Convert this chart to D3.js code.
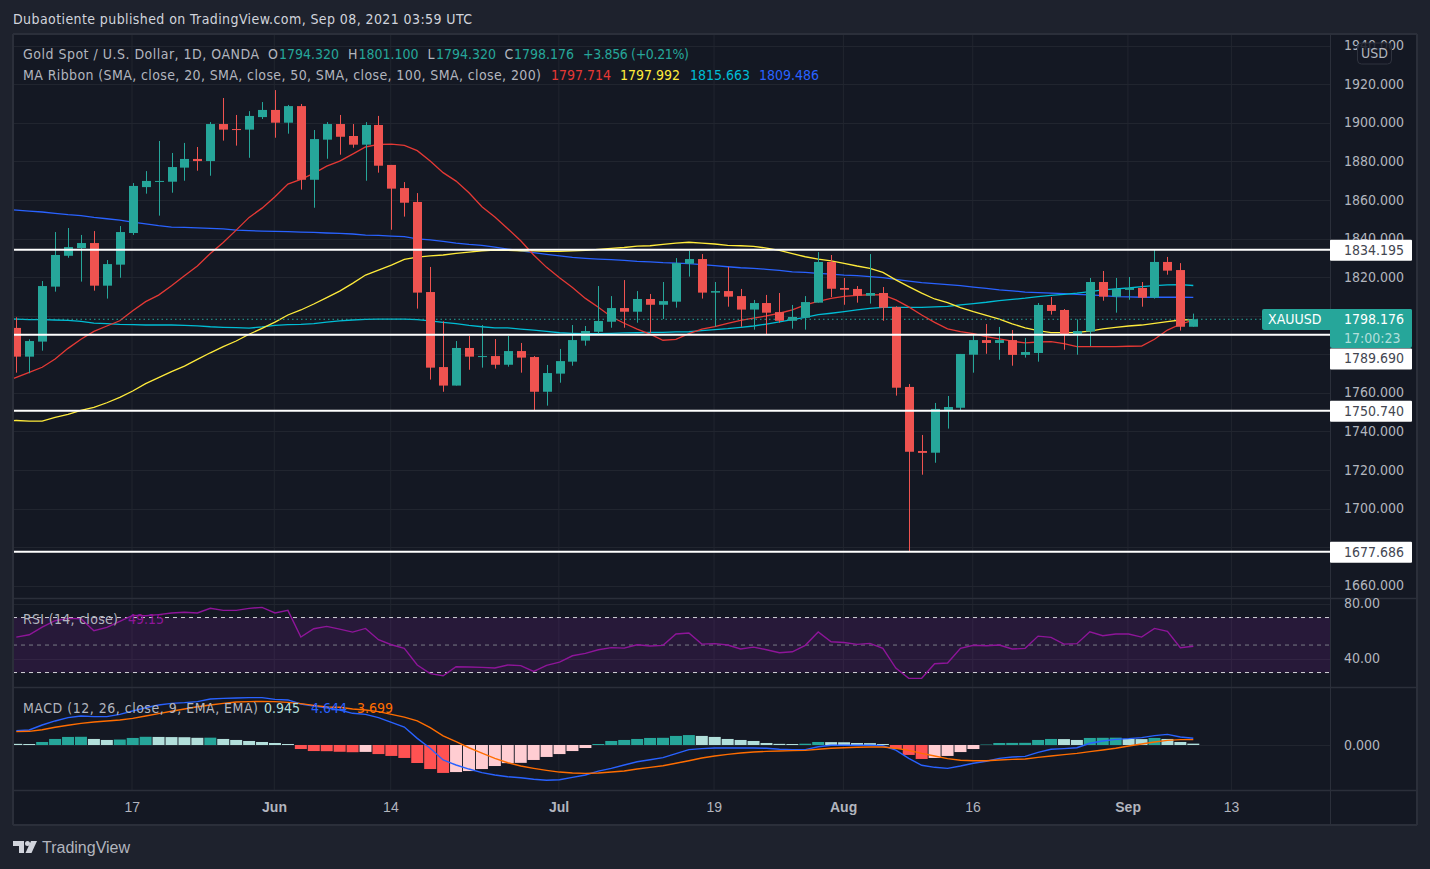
<!DOCTYPE html>
<html><head><meta charset="utf-8">
<script src="https://cdnjs.cloudflare.com/ajax/libs/d3/7.8.5/d3.min.js"></script>
<style>
html,body{margin:0;padding:0;background:#1e222d;overflow:hidden}
text{font-family:"DejaVu Sans Condensed","DejaVu Sans",sans-serif;font-stretch:condensed;font-size:14px}
</style></head><body><svg id="c" width="1430" height="869"></svg>
<script>
// ---- values ----
const opens=[1793.3,1778.4,1786.2,1814.7,1830.7,1834.7,1837.3,1815.2,1826.1,1842.5,1866.3,1869.1,1869.1,1876.4,1880.9,1879.8,1899.0,1896.4,1896.1,1902.6,1906.3,1899.7,1908.3,1870.1,1890.9,1899.0,1892.8,1888.3,1898.5,1877.8,1865.8,1858.6,1811.9,1773.0,1763.4,1782.9,1778.2,1778.7,1774.2,1781.3,1778.2,1760.2,1769.6,1775.8,1786.7,1791.3,1796.5,1803.6,1801.7,1808.3,1805.3,1806.9,1826.6,1829.0,1811.6,1812.4,1809.8,1802.8,1806.2,1801.5,1797.0,1798.6,1806.4,1827.5,1814.0,1813.5,1810.0,1811.4,1804.1,1762.7,1729.5,1728.6,1750.7,1751.9,1779.4,1787.0,1785.5,1787.0,1779.3,1780.3,1805.2,1802.6,1790.1,1791.4,1817.1,1809.5,1813.0,1814.0,1809.0,1827.5,1823.3,1793.9];
const highs=[1798.8,1787.4,1817.6,1843.0,1845.1,1841.5,1843.5,1828.5,1846.1,1868.4,1874.6,1890.2,1884.0,1889.2,1887.1,1900.0,1912.5,1903.7,1905.7,1910.4,1916.6,1908.9,1909.4,1895.9,1900.0,1903.7,1899.0,1900.0,1903.2,1877.8,1868.9,1863.2,1824.9,1796.7,1786.5,1789.1,1794.8,1787.5,1789.1,1785.5,1778.7,1774.1,1782.4,1794.8,1794.3,1815.0,1809.8,1818.1,1812.4,1810.9,1817.1,1829.5,1833.2,1831.6,1817.1,1824.9,1813.5,1807.8,1810.4,1811.4,1805.2,1809.8,1832.6,1831.1,1819.2,1815.0,1831.6,1814.5,1804.5,1764.2,1737.8,1754.4,1758.0,1779.8,1789.6,1795.3,1793.8,1792.2,1788.1,1806.2,1809.3,1803.1,1797.7,1819.2,1822.8,1819.2,1819.7,1817.1,1833.7,1830.1,1826.9,1800.7];
const lows=[1770.1,1769.8,1781.5,1812.1,1829.7,1817.3,1812.6,1808.5,1819.3,1841.5,1862.9,1851.5,1863.4,1869.6,1874.8,1872.2,1890.4,1887.8,1881.5,1901.6,1891.9,1894.0,1865.0,1855.6,1881.0,1883.1,1886.7,1869.6,1873.8,1844.2,1851.0,1803.3,1766.5,1760.2,1763.4,1771.6,1772.7,1772.2,1773.2,1770.1,1750.7,1753.0,1764.9,1773.7,1784.1,1790.1,1793.4,1793.4,1796.0,1790.8,1797.9,1803.8,1819.9,1808.5,1793.9,1804.3,1793.9,1792.4,1790.1,1796.0,1792.9,1792.4,1806.4,1809.3,1805.3,1806.4,1805.9,1797.0,1758.2,1677.3,1717.2,1723.4,1741.1,1750.7,1770.1,1779.9,1776.8,1773.7,1777.9,1775.8,1800.2,1782.0,1779.4,1783.9,1807.4,1801.2,1807.9,1804.3,1808.5,1820.9,1791.9,1793.9];
const closes=[1778.4,1786.5,1815.0,1831.1,1835.2,1837.3,1815.2,1826.4,1843.0,1866.9,1869.5,1869.5,1876.7,1880.9,1879.8,1899.0,1896.1,1896.1,1903.2,1906.3,1899.7,1908.3,1870.1,1891.2,1899.0,1892.4,1888.3,1898.5,1877.4,1865.5,1858.2,1811.6,1772.7,1763.4,1782.9,1778.4,1778.7,1774.2,1781.3,1777.9,1760.2,1769.9,1776.1,1787.0,1791.7,1796.9,1803.6,1801.7,1808.3,1805.3,1807.2,1826.9,1829.0,1811.6,1812.4,1809.5,1802.8,1806.2,1801.2,1797.0,1799.0,1806.7,1827.5,1813.6,1813.1,1810.0,1811.4,1803.8,1762.3,1729.1,1728.5,1751.3,1752.3,1779.8,1787.0,1785.5,1787.0,1779.3,1780.8,1805.2,1802.1,1790.1,1791.7,1817.1,1809.5,1813.5,1814.0,1809.0,1827.5,1823.0,1793.9,1797.8];
// moving averages: first value belongs to the session before the first candle
const ma20=[1765.0,1767.7,1770.3,1772.9,1777.2,1782.7,1787.4,1791.5,1794.3,1797.0,1802.2,1806.9,1810.3,1815.2,1820.4,1825.4,1831.9,1837.6,1844.0,1850.6,1855.4,1861.3,1867.9,1870.3,1873.4,1877.2,1879.8,1883.4,1887.1,1888.4,1888.6,1887.9,1885.2,1879.8,1873.8,1869.4,1863.4,1856.1,1850.8,1844.7,1838.5,1831.1,1824.7,1819.3,1814.2,1808.6,1804.0,1799.1,1795.7,1792.7,1790.1,1786.9,1787.4,1790.3,1792.7,1794.0,1795.7,1797.2,1798.4,1799.5,1800.9,1802.6,1805.2,1807.1,1808.6,1809.7,1810.2,1810.5,1810.4,1807.8,1804.2,1800.0,1796.2,1792.8,1791.4,1790.3,1788.8,1787.6,1786.4,1785.5,1786.0,1786.2,1785.2,1783.6,1783.6,1783.6,1783.6,1783.8,1783.9,1787.4,1792.2,1795.2,1797.3];
const ma50=[1745.2,1745.3,1745.0,1745.0,1746.9,1748.5,1750.6,1752.1,1754.5,1757.3,1760.6,1764.4,1767.5,1770.6,1773.5,1777.0,1780.4,1783.6,1786.5,1790.0,1793.1,1796.3,1800.0,1802.6,1805.7,1809.0,1812.4,1816.4,1820.7,1823.3,1825.9,1828.8,1830.0,1830.6,1831.1,1831.9,1832.6,1833.3,1833.7,1833.5,1833.3,1833.2,1833.0,1833.0,1833.2,1833.5,1834.0,1834.5,1835.0,1835.7,1835.9,1836.6,1837.3,1837.7,1837.3,1836.8,1836.1,1835.9,1835.6,1834.7,1833.5,1831.8,1830.2,1829.0,1828.0,1826.8,1825.4,1824.2,1822.1,1818.2,1814.7,1811.3,1808.3,1806.4,1803.8,1801.7,1799.8,1797.8,1795.4,1793.3,1791.9,1790.9,1790.9,1791.0,1791.6,1792.8,1793.6,1794.3,1794.8,1795.7,1796.6,1797.4,1797.6];
const ma100=[1798.0,1797.9,1797.6,1797.6,1797.4,1797.2,1796.7,1795.8,1795.5,1795.1,1795.0,1794.8,1794.8,1794.8,1794.6,1794.4,1793.9,1793.6,1793.4,1793.2,1793.8,1794.6,1795.0,1795.1,1795.5,1796.3,1797.0,1797.4,1797.7,1797.9,1797.9,1797.9,1797.6,1797.0,1796.2,1795.5,1794.6,1793.9,1793.3,1793.3,1792.7,1792.2,1791.5,1790.8,1790.5,1790.3,1790.3,1790.5,1790.7,1790.8,1791.0,1791.0,1791.2,1791.3,1791.9,1792.4,1792.9,1793.6,1794.3,1795.3,1796.4,1797.6,1798.8,1800.2,1800.9,1801.7,1802.6,1803.4,1804.0,1804.0,1804.0,1804.0,1804.2,1804.5,1805.2,1805.9,1806.6,1807.5,1808.1,1808.7,1809.5,1810.2,1810.7,1811.3,1812.1,1813.0,1813.5,1814.0,1814.7,1815.2,1815.6,1815.7,1815.3];
const ma200=[1854.9,1854.4,1853.9,1853.4,1852.7,1852.0,1851.5,1850.6,1849.9,1849.2,1848.2,1847.2,1846.3,1845.6,1845.4,1845.2,1844.9,1844.6,1844.0,1843.7,1843.5,1843.3,1843.2,1843.0,1842.8,1842.5,1842.3,1842.0,1841.4,1841.3,1840.9,1840.6,1839.5,1838.9,1838.2,1837.3,1836.6,1836.1,1835.2,1834.2,1833.3,1832.3,1831.4,1830.6,1829.9,1829.4,1829.0,1828.7,1828.3,1827.8,1827.5,1827.1,1826.9,1826.6,1826.1,1825.6,1825.0,1824.5,1824.2,1823.7,1823.1,1822.4,1822.1,1821.6,1821.2,1820.7,1820.4,1819.9,1819.4,1818.5,1817.6,1816.8,1816.3,1815.7,1815.2,1814.5,1813.8,1813.0,1812.5,1811.9,1811.6,1811.3,1811.1,1810.7,1810.4,1810.0,1809.5,1809.4,1809.2,1809.2,1809.2,1809.2,1809.1];
const rsi=[55.8,57.5,63.1,67.7,69.4,69.1,60.4,62.8,67.2,71.6,71.3,72.1,73.3,73.8,73.3,76.7,75.2,75.2,76.7,77.4,73.3,75.2,55.8,61.9,63.6,61.6,59.4,62.1,53.9,50.2,47.6,35.5,29.2,27.7,34.2,34.0,33.8,33.3,35.5,35.0,30.8,35.2,37.6,42.2,43.9,46.6,48.1,47.8,50.2,49.3,49.8,58.0,58.7,50.7,51.0,50.0,47.1,48.5,46.6,44.4,45.1,49.8,59.5,52.4,51.9,50.5,51.2,47.6,33.3,25.8,25.8,36.4,36.9,47.6,49.8,49.5,50.0,47.1,47.6,56.5,55.6,50.7,51.0,59.7,56.8,58.0,58.0,55.8,62.1,59.9,48.1,49.15];
const macdLine=[10.0,10.4,13.9,16.7,19.0,20.1,19.7,19.7,21.3,23.6,25.9,27.8,28.9,29.4,30.1,31.9,32.4,32.6,32.9,32.9,31.7,31.3,28.5,27.1,25.9,24.3,22.0,21.3,19.0,15.7,12.5,4.6,-2.3,-10.4,-13.9,-16.7,-19.2,-20.8,-22.0,-22.7,-23.8,-24.5,-24.1,-22.5,-20.8,-18.1,-16.2,-13.9,-11.6,-10.2,-8.8,-6.0,-3.2,-2.5,-2.1,-2.1,-2.1,-2.1,-2.3,-3.0,-3.2,-3.2,-1.2,-0.2,-0.2,-0.2,-0.2,-0.5,-3.5,-9.3,-14.1,-15.5,-16.2,-14.6,-12.7,-11.3,-9.3,-8.3,-7.9,-5.1,-3.0,-2.5,-1.9,1.2,2.8,3.9,4.4,5.1,6.5,7.4,5.6,4.644];
const macdSignal=[9.3,9.5,10.6,12.3,13.7,15.0,16.0,16.7,17.4,18.5,20.1,21.8,23.4,25.0,26.6,27.8,28.9,29.9,30.1,30.3,30.1,29.6,28.7,27.5,26.4,26.2,25.0,24.3,23.2,21.3,19.4,16.7,12.0,6.3,2.3,-1.9,-5.6,-9.3,-12.3,-14.6,-16.2,-17.6,-18.8,-19.4,-19.7,-19.4,-18.8,-18.1,-16.7,-15.5,-14.4,-12.7,-10.9,-9.0,-7.6,-6.5,-5.6,-4.9,-4.4,-4.2,-3.9,-3.7,-3.0,-2.3,-1.9,-1.6,-1.4,-1.4,-2.3,-3.7,-5.8,-7.6,-9.5,-10.6,-10.9,-10.9,-10.4,-10.0,-9.7,-8.6,-7.6,-6.7,-5.8,-4.6,-3.5,-2.3,-0.7,0.7,2.1,3.2,3.7,3.699];
const macdHist=[0.8,0.7,2.1,4.2,5.6,5.7,4.2,3.5,3.8,4.9,5.7,5.6,5.5,5.4,5.0,5.1,4.2,3.5,2.8,2.1,1.4,0.7,-2.8,-4.2,-4.3,-4.7,-5.0,-4.8,-6.3,-7.6,-9.0,-12.5,-16.7,-19.4,-18.8,-18.1,-16.7,-14.6,-12.6,-12.4,-10.4,-8.3,-6.3,-4.2,-2.1,0.7,2.8,3.5,4.2,4.9,5.0,6.3,6.9,6.3,5.6,4.2,3.5,2.8,1.4,0.8,0.7,0.9,2.1,2.0,1.9,1.4,1.3,0.7,-2.8,-6.9,-9.7,-9.0,-7.6,-4.9,-2.8,0.3,1.4,1.45,1.5,3.5,4.2,4.1,3.5,4.9,5.0,5.1,4.2,4.1,4.9,4.2,2.1,0.945];
const readingOffset=0.4; // prices above were read against a grid 0.4 lower than the axis
const timeTickIndex=[9,20,29,42,54,64,74,86,94];
const timeTickLabels=["17","Jun","14","Jul","19","Aug","16","Sep","13"];
const priceTicks=[1940,1920,1900,1880,1860,1840,1820,1800,1780,1760,1740,1720,1700,1680,1660];
const priceTickLabelsCovered=[1800,1780,1680]; // gridline only: the label pills cover these in the picture
const levels=[1834.195,1790.2,1750.740,1677.686];
const levelLabels=["1834.195","1789.690","1750.740","1677.686"];
const lastPrice=1798.176;
const rsiTicks=[80,40], rsiBands=[70,50,30];
const macdTicks=[0];
// ---- drawing ----
const svg=d3.select("#c");
const L=13,R=1330,AX=1417,T=34,B=825;
const P1=598,P2=687,P3=790;
const bg="#141823",gridC="#21252f",sepC="#2b2f3a",txt="#b2b5be";
const up="#26a69a",dn="#ef5350";
const x=d3.scaleLinear().domain([0,91]).range([16.3,1193.3]);
const y=d3.scaleLinear().domain([1920,1660]).range([84.3,585.8]);
const yR=d3.scaleLinear().domain([80,40]).range([603.8,658.8]);
const yM=d3.scaleLinear().domain([0,10]).range([745,730.6]);
const adj=a=>a.map(v=>v+readingOffset);
const O=adj(opens),H=adj(highs),Lo=adj(lows),C=adj(closes);

svg.append("rect").attr("x",L).attr("y",T).attr("width",AX-L).attr("height",B-T).attr("fill",bg);
const defs=svg.append("defs");
[["cp",T,P1],["cr",P1,P2],["cm",P2,P3]].forEach(([id,a,b])=>defs.append("clipPath").attr("id",id).append("rect").attr("x",L).attr("y",a).attr("width",R-L).attr("height",b-a));

// grid
const gGrid=svg.append("g");
const vGrid=(a,b)=>gGrid.append("g").selectAll("line").data(timeTickIndex).join("line").attr("x1",d=>x(d)-.7).attr("x2",d=>x(d)-.7).attr("y1",a).attr("y2",b).attr("stroke",gridC);
vGrid(T,P1);vGrid(P1,P2);vGrid(P2,P3);
const hGrid=(s,ticks,clip)=>gGrid.append("g").attr("clip-path",`url(#${clip})`).selectAll("line").data(ticks).join("line").attr("x1",L).attr("x2",R).attr("y1",d=>Math.round(s(d))+.5).attr("y2",d=>Math.round(s(d))+.5).attr("stroke",gridC);
hGrid(y,priceTicks,"cp");hGrid(yR,rsiTicks,"cr");hGrid(yM,macdTicks,"cm");

// price pane
const price=svg.append("g").attr("clip-path","url(#cp)");
const maLine=d3.line().x((d,i)=>x(i-1)).y(d=>y(d));
[[ma200,"#2962ff"],[ma100,"#00bcd4"],[ma50,"#ffeb3b"],[ma20,"#e53935"]].forEach(([a,c])=>
  price.append("path").attr("d",maLine(adj(a))).attr("fill","none").attr("stroke",c).attr("stroke-width",1.3));
price.append("line").attr("x1",L).attr("x2",1262).attr("y1",y(lastPrice)).attr("y2",y(lastPrice)).attr("stroke",up).attr("stroke-dasharray","1.5 3");
const idx=d3.range(O.length);
const col=i=>C[i]>=O[i]?up:dn;
price.append("g").selectAll("line").data(idx).join("line").attr("x1",i=>Math.round(x(i))+.5).attr("x2",i=>Math.round(x(i))+.5).attr("y1",i=>y(H[i])).attr("y2",i=>y(Lo[i])).attr("stroke",col);
price.append("g").selectAll("rect").data(idx).join("rect").attr("x",i=>Math.round(x(i))-4).attr("width",9)
  .attr("y",i=>y(Math.max(O[i],C[i]))).attr("height",i=>Math.max(1,Math.abs(y(O[i])-y(C[i])))).attr("fill",col);
price.append("g").selectAll("line").data(levels).join("line").attr("x1",L).attr("x2",R).attr("y1",d=>y(d)).attr("y2",d=>y(d)).attr("stroke","#fff").attr("stroke-width",2);

// RSI
const rsiG=svg.append("g").attr("clip-path","url(#cr)");
rsiG.append("rect").attr("x",L).attr("width",R-L).attr("y",yR(70)).attr("height",yR(30)-yR(70)).attr("fill","#7e1fa2").attr("fill-opacity",.18);
rsiG.append("g").selectAll("line").data(rsiBands).join("line").attr("x1",L).attr("x2",R).attr("y1",d=>yR(d)).attr("y2",d=>yR(d))
  .attr("stroke",d=>d===50?"#787b86":"#d5d6da").attr("stroke-dasharray","4 4");
rsiG.append("path").attr("d",d3.line().x((d,i)=>x(i)).y(d=>yR(d))(rsi)).attr("fill","none").attr("stroke","#8e1599").attr("stroke-width",1.4);

// MACD
const mG=svg.append("g").attr("clip-path","url(#cm)");
const hcol=(v,i)=>{const p=i?macdHist[i-1]:v+1;return v>=0?(v>p?up:"#b2dfdb"):(v<p?"#ff5252":"#ffcdd2");};
mG.append("g").selectAll("rect").data(macdHist).join("rect").attr("x",(d,i)=>x(i)-6).attr("width",12)
  .attr("y",d=>Math.min(yM(d),yM(0))).attr("height",d=>Math.abs(yM(d)-yM(0))).attr("fill",hcol);
[[macdLine,"#2962ff"],[macdSignal,"#ff6d00"]].forEach(([a,c])=>
  mG.append("path").attr("d",d3.line().x((d,i)=>x(i)).y(d=>yM(d))(a)).attr("fill","none").attr("stroke",c).attr("stroke-width",1.4));

// frames
const sep=(x1,y1,x2,y2,w=1)=>svg.append("line").attr("x1",x1).attr("y1",y1).attr("x2",x2).attr("y2",y2).attr("stroke",sepC).attr("stroke-width",w);
[P1,P2,P3].forEach(v=>sep(L,v+.5,AX,v+.5,1.5));
sep(R+.5,T,R+.5,B);
sep(L,T,AX,T,2);sep(L,B,AX,B,2);sep(L,T,L,B,2);sep(AX,T,AX,B,2);

// axes
const axisText=g=>{g.select(".domain").remove();g.selectAll(".tick line").remove();g.selectAll("text").attr("fill",txt).attr("x",0).style("font-size","14px");};
defs.append("clipPath").attr("id","apc").append("rect").attr("x",-14).attr("y",T+2).attr("width",88).attr("height",P1-T-2);
svg.append("g").attr("clip-path","url(#apc)").attr("transform","translate(1344,-.5)")
  .call(d3.axisRight(y).tickValues(priceTicks.filter(d=>!priceTickLabelsCovered.includes(d))).tickFormat(d3.format(".3f"))).call(axisText);
svg.append("g").attr("transform","translate(1344,-.5)").call(d3.axisRight(yR).tickValues(rsiTicks).tickFormat(d3.format(".2f"))).call(axisText);
svg.append("g").attr("transform","translate(1344,0)").call(d3.axisRight(yM).tickValues(macdTicks).tickFormat(d3.format(".3f"))).call(axisText);
svg.append("g").attr("transform",`translate(-1,${P3+9})`).call(d3.axisBottom(x).tickValues(timeTickIndex).tickFormat((d,i)=>timeTickLabels[i])).call(g=>{g.select(".domain").remove();g.selectAll(".tick line").remove();g.selectAll("text").attr("fill",txt).attr("y",3).attr("dy",".71em").style("font-family",'"Liberation Sans",Arial,sans-serif').style("font-size","14px").style("font-weight",d=>[20,42,64,86].includes(d)?"bold":"normal");});

// price labels
const t=(xx,yy,s,c=txt,extra={})=>{const e=svg.append("text").attr("x",xx).attr("y",yy).attr("dy",".35em").attr("fill",c).text(s);Object.entries(extra).forEach(([k,v])=>e.attr(k,v));return e;};
const lab=(i,cy)=>{svg.append("rect").attr("x",R).attr("y",cy-10).attr("width",82).attr("height",21).attr("fill","#fff").attr("rx",1);
 t(1344,cy,levelLabels[i],"#434651");};
lab(0,y(levels[0]));
lab(2,y(levels[2]));
lab(3,y(levels[3]));
svg.append("rect").attr("x",1262).attr("y",309).attr("width",150).attr("height",21).attr("rx",2).attr("fill",up);
svg.append("rect").attr("x",R).attr("y",309).attr("width",82).attr("height",39).attr("rx",2).attr("fill",up);
t(1268,319.5,"XAUUSD","#fff");t(1344,319.5,"1798.176","#fff");t(1344,338,"17:00:23","#b2dfdb");
lab(1,358.5); // sits below the countdown
// USD button
svg.append("rect").attr("x",1357.5).attr("y",43).attr("width",34).attr("height",21).attr("rx",4).attr("fill",bg).attr("fill-opacity",.85).attr("stroke","#2f333e");
t(1374.5,53.5,"USD",txt,{"text-anchor":"middle"});

// legends
const fit=w=>({textLength:w,lengthAdjust:"spacing"});
t(13,19.5,"Dubaotiente published on TradingView.com, Sep 08, 2021 03:59 UTC","#d1d4dc",fit(459));
t(23,54,"Gold Spot / U.S. Dollar, 1D, OANDA",txt,fit(236));
[[268,"O",txt],[279,"1794.320",up],[348,"H",txt],[358.5,"1801.100",up],[427.5,"L",txt],[436,"1794.320",up],[504.5,"C",txt],[514,"1798.176",up]].forEach(d=>t(d[0],54,d[1],d[2]));
t(583,54,"+3.856 (+0.21%)",up,fit(106));
t(23,75,"MA Ribbon (SMA, close, 20, SMA, close, 50, SMA, close, 100, SMA, close, 200)",txt,fit(518));
[[551,"1797.714","#e53935"],[620,"1797.992","#ffeb3b"],[690,"1815.663","#00bcd4"],[759,"1809.486","#2962ff"]].forEach(d=>t(d[0],75,d[1],d[2]));
t(23,619,"RSI (14, close)",txt,fit(95));t(128,619,"49.15","#8e1599");
t(23,708,"MACD (12, 26, close, 9, EMA, EMA)",txt,fit(235));t(264,708,"0.945","#b2dfdb");t(311,708,"4.644","#2962ff");t(357,708,"3.699","#ff6d00");

// logo
const lg=svg.append("g").attr("fill","#d1d4dc");
lg.append("path").attr("d","M13 841h11v12h-5v-7h-6z");
lg.append("circle").attr("cx",27.5).attr("cy",843.5).attr("r",2.5);
lg.append("path").attr("d","M31 841h6l-5.5 12h-6z");
t(42,847.5,"TradingView","#b2b5be").style("font-family",'"Liberation Sans",Arial,sans-serif').style("font-size","16px");
</script></body></html>
